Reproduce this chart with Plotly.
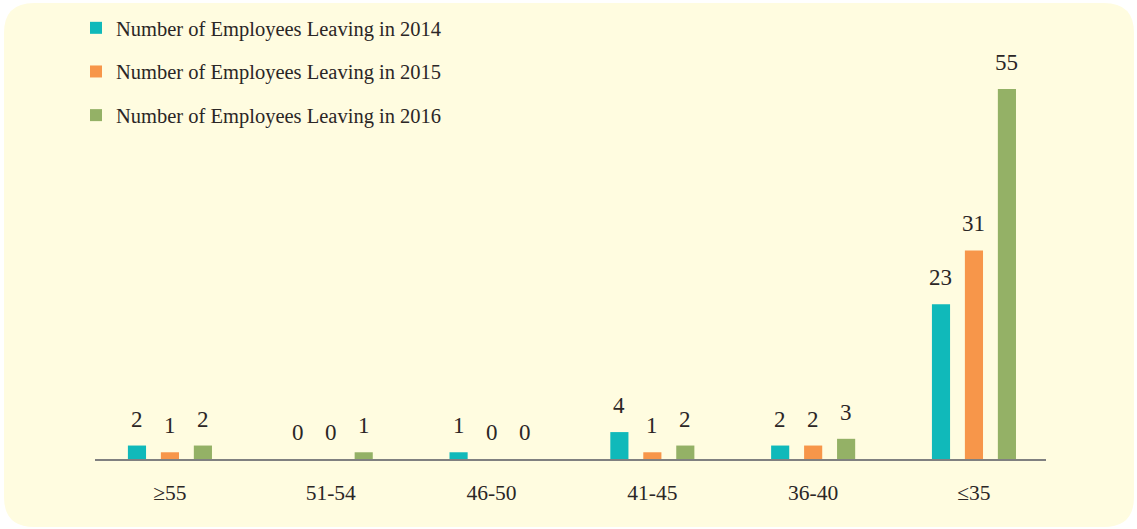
import plotly.graph_objects as go

# Age bands and leavers per year
age_bands = ["≥55", "51-54", "46-50", "41-45", "36-40", "≤35"]
leaving_2014 = [2, 0, 1, 4, 2, 23]
leaving_2015 = [1, 0, 0, 1, 2, 31]
leaving_2016 = [2, 1, 0, 2, 3, 55]

series_names = [
    "Number of Employees Leaving in 2014",
    "Number of Employees Leaving in 2015",
    "Number of Employees Leaving in 2016",
]
series_colors = ["#10B9BA", "#F7964A", "#94B166"]

W, H = 1137, 529
ML, MR, MT, MB = 95, 91, 60, 70
FONT = "Liberation Serif"
TXT = "#2b2626"

BARGAP, GROUPGAP = 0.385, 0.45
slot = (1 - BARGAP) / 3  # width of one series slot inside a category

fig = go.Figure()
all_series = [leaving_2014, leaving_2015, leaving_2016]
for i, (name, vals, col) in enumerate(zip(series_names, all_series, series_colors)):
    fig.add_trace(
        go.Bar(
            x=age_bands,
            y=vals,
            name=name,
            marker=dict(color=col, line=dict(width=0)),
            cliponaxis=False,
            legendgroup=f"g{i}",
        )
    )
    # value labels above each bar, placed at the bar's slot centre
    for k, v in enumerate(vals):
        fig.add_annotation(
            x=k + (i - 1) * slot,
            y=v,
            xref="x",
            yref="y",
            text=str(v),
            showarrow=False,
            yanchor="bottom",
            yshift=12,
            font=dict(family=FONT, size=23, color=TXT),
        )

# rounded card behind the chart, expressed in paper coordinates
pw, ph = W - ML - MR, H - MT - MB


def px(x):
    return (x - ML) / pw


def py(y):
    return 1 - (y - MT) / ph


x0, x1, y0, y1, r = 4, 1134, 3, 527, 30
path = (
    f"M {px(x0 + r)},{py(y0)} L {px(x1 - r)},{py(y0)} "
    f"Q {px(x1)},{py(y0)} {px(x1)},{py(y0 + r)} "
    f"L {px(x1)},{py(y1 - r)} Q {px(x1)},{py(y1)} {px(x1 - r)},{py(y1)} "
    f"L {px(x0 + r)},{py(y1)} Q {px(x0)},{py(y1)} {px(x0)},{py(y1 - r)} "
    f"L {px(x0)},{py(y0 + r)} Q {px(x0)},{py(y0)} {px(x0 + r)},{py(y0)} Z"
)
fig.add_shape(
    type="path",
    path=path,
    xref="paper",
    yref="paper",
    fillcolor="#FFFCE0",
    line=dict(width=0),
    layer="below",
)

fig.update_layout(
    width=W,
    height=H,
    margin=dict(l=ML, r=MR, t=MT, b=MB, autoexpand=False),
    paper_bgcolor="white",
    plot_bgcolor="rgba(0,0,0,0)",
    barmode="group",
    bargap=BARGAP,
    bargroupgap=GROUPGAP,
    font=dict(family=FONT, color=TXT),
    showlegend=True,
    legend=dict(
        xref="container",
        yref="container",
        x=76 / W,
        y=1 - 8 / H,
        xanchor="left",
        yanchor="top",
        bgcolor="rgba(0,0,0,0)",
        font=dict(family=FONT, size=20.5, color=TXT),
        tracegroupgap=14,
        traceorder="grouped",
    ),
    xaxis=dict(
        range=[-0.466, 5.448],
        showline=True,
        linecolor="#808080",
        linewidth=2,
        showgrid=False,
        zeroline=False,
        ticks="outside",
        ticklen=13,
        tickcolor="rgba(0,0,0,0)",
        tickfont=dict(family=FONT, size=21.5, color=TXT),
    ),
    yaxis=dict(
        range=[0, 59.3],
        visible=False,
        showgrid=False,
        zeroline=False,
    ),
)

fig.write_html("out.html")
